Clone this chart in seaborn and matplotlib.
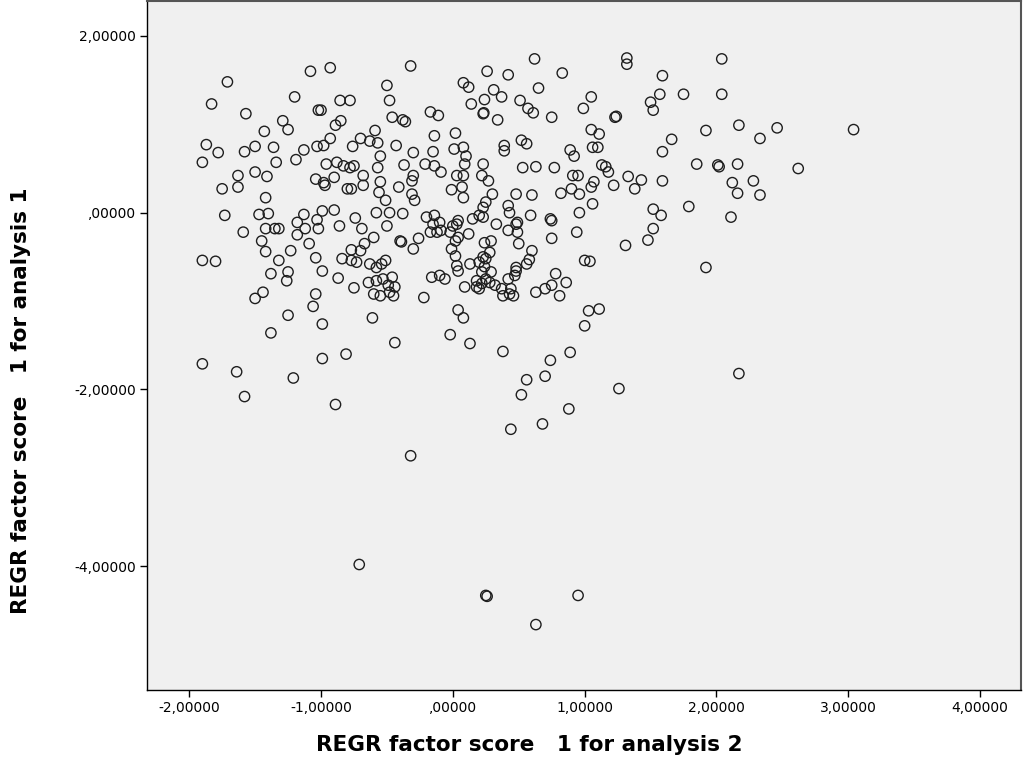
import matplotlib
matplotlib.use("Agg")
import matplotlib.pyplot as plt
import seaborn as sns
import pandas as pd

# ---- data ----
score2 = [
 -1.71,-1.83,-1.57,-1.08,-0.93,-1.20,-0.855,-0.78,-1.02,-1.00,-1.29,-1.25,-1.43,-0.89,-0.85,-0.93,-0.70,-0.76,-1.87,-1.78,
 -1.58,-1.50,-1.36,-1.13,-1.03,-0.98,-1.19,-1.90,-1.34,
 -0.32,-0.50,-0.48,-0.46,-0.38,-0.36,-0.59,-0.63,-0.57,-0.43,-0.55,-0.30,-0.15,-0.17,-0.11,-0.14,0.02,0.01,0.08,0.10,
 0.08,0.12,0.26,0.14,0.24,0.31,0.37,0.23,0.235,0.34,0.42,0.51,0.57,0.61,0.62,0.65,0.75,0.83,0.99,0.52,0.56,0.39,0.39,0.89,0.92,
 1.05,1.32,1.32,1.59,2.04,1.05,1.57,1.50,1.52,1.75,2.04,1.23,1.24,1.11,1.92,2.17,2.46,2.33,1.66,1.59,1.06,1.10,
 3.04,
 1.85,2.01,2.02,2.16,2.62,1.13,1.16,1.18,1.07,1.05,1.22,1.33,1.43,1.38,1.59,2.12,2.16,2.28,2.33,1.06,1.52,1.58,1.79,2.11,
 1.52,1.48,1.31,1.04,1.92,
 1.11,1.03,1.00,1.26,2.17,
 -0.61,-0.44,0.04,0.08,-0.02,0.13,0.38,0.89,0.74,0.70,0.56,0.52,0.88,0.68,0.44,-0.32,
 -1.50,-1.25,-1.06,-0.99,-1.38,-0.81,-0.99,-1.90,-1.64,-1.21,-1.58,-0.89,
 -0.71,0.25,0.26,0.95,0.63,
 -1.63,-1.63,-1.75,-1.50,-1.41,-1.42,-1.73,-1.47,-1.40,-1.59,-1.42,-1.35,-1.32,-1.45,-1.42,-1.90,-1.80,-1.32,-1.23,-1.38,
 -1.25,-1.26,-1.44,-1.18,-1.13,-1.12,-1.18,-1.09,-1.04,-0.99,-1.03,-1.02,-0.99,-0.90,-0.86,-0.74,-0.69,-0.84,-0.77,-0.77,
 -0.73,-0.70,-0.67,-0.87,-0.75,-0.64,-1.04,-1.04,-0.98,-0.97,-0.90,-0.96,-0.88,-0.83,-0.78,-0.75,-0.68,-0.80,-0.77,-0.68,
 -0.57,-0.55,-0.56,-0.51,-0.58,-0.48,-0.50,-0.38,-0.41,-0.37,-0.30,-0.31,-0.31,-0.29,-0.21,-0.14,-0.09,-0.20,-0.14,-0.15,
 -0.17,-0.12,-0.09,-0.10,0.03,0.08,-0.01,0.07,0.08,0.09,0.23,0.22,0.27,0.30,0.25,0.23,0.20,0.04,0.03,0.00,
 -0.02,0.02,0.04,-0.01,0.02,0.03,0.04,0.12,0.15,0.23,0.24,0.29,0.28,0.23,0.20,0.22,0.13,0.33,0.42,0.48,
 0.49,0.43,0.49,0.48,0.60,0.53,0.63,0.77,0.59,0.74,0.75,0.75,0.50,0.60,0.58,0.42,0.82,0.90,0.95,0.91,
 0.96,0.96,0.94,1.00,0.48,0.48,0.56,0.42,0.47,0.78,0.86,0.75,0.70,0.63,0.44,0.43,0.46,0.81,0.25,0.24,
 0.29,0.25,0.22,0.28,0.09,0.18,0.18,0.20,0.37,0.32,0.38,-0.22,-0.16,-0.10,-0.06,-0.40,-0.39,-0.30,-0.26,-0.60,
 -0.63,-0.58,-0.54,-0.51,-0.58,-0.53,-0.49,-0.46,-0.44,-0.60,-0.55,-0.48,-0.45,
]
score1 = [
 1.48,1.23,1.12,1.60,1.64,1.31,1.27,1.27,1.16,1.16,1.04,0.94,0.92,0.99,1.04,0.84,0.84,0.75,0.77,0.68,
 0.69,0.75,0.74,0.71,0.75,0.76,0.60,0.57,0.57,
 1.66,1.44,1.27,1.08,1.05,1.03,0.93,0.81,0.79,0.76,0.64,0.68,0.69,1.14,1.10,0.87,0.90,0.72,0.74,0.64,
 1.47,1.42,1.60,1.23,1.28,1.39,1.31,1.12,1.13,1.05,1.56,1.27,1.18,1.13,1.74,1.41,1.08,1.58,1.18,0.82,0.78,0.76,0.70,0.71,0.64,
 1.31,1.75,1.68,1.55,1.74,0.94,1.34,1.25,1.16,1.34,1.34,1.08,1.09,0.89,0.93,0.99,0.96,0.84,0.83,0.69,0.74,0.74,
 0.94,
 0.55,0.54,0.52,0.55,0.50,0.54,0.52,0.46,0.35,0.29,0.31,0.41,0.37,0.27,0.36,0.34,0.22,0.36,0.20,0.10,0.04,-0.03,0.07,-0.05,
 -0.18,-0.31,-0.37,-0.55,-0.62,
 -1.09,-1.11,-1.28,-1.99,-1.82,
 -1.19,-1.47,-1.10,-1.19,-1.38,-1.48,-1.57,-1.58,-1.67,-1.85,-1.89,-2.06,-2.22,-2.39,-2.45,-2.75,
 -0.97,-1.16,-1.06,-1.26,-1.36,-1.60,-1.65,-1.71,-1.80,-1.87,-2.08,-2.17,
 -3.98,-4.33,-4.34,-4.33,-4.66,
 0.42,0.29,0.27,0.46,0.41,0.17,-0.03,-0.02,-0.01,-0.22,-0.18,-0.18,-0.18,-0.32,-0.44,-0.54,-0.55,-0.54,-0.43,-0.69,
 -0.67,-0.77,-0.90,-0.11,-0.02,-0.18,-0.25,-0.35,-0.51,-0.66,-0.08,-0.18,0.02,0.03,-0.15,-0.06,-0.18,-0.52,-0.42,-0.54,
 -0.56,-0.43,-0.35,-0.74,-0.85,-0.79,-0.92,0.38,0.34,0.31,0.40,0.55,0.57,0.53,0.51,0.53,0.42,0.27,0.27,0.31,
 0.51,0.35,0.23,0.14,0.00,0.00,-0.15,-0.01,0.29,0.54,0.42,0.36,0.21,0.14,0.55,0.53,0.46,-0.05,-0.03,-0.13,
 -0.22,-0.22,-0.20,-0.11,0.42,0.42,0.26,0.29,0.17,0.55,0.55,0.42,0.36,0.21,0.12,0.06,-0.03,-0.09,-0.13,-0.15,
 -0.22,-0.32,-0.28,-0.41,-0.49,-0.60,-0.66,-0.24,-0.07,-0.05,-0.34,-0.32,-0.45,-0.50,-0.56,-0.67,-0.58,-0.13,-0.20,-0.13,
 -0.22,0.00,-0.11,0.21,0.20,0.51,0.52,0.51,-0.03,-0.07,-0.09,-0.29,-0.35,-0.43,-0.53,0.08,0.22,0.27,0.42,0.42,
 0.21,0.00,-0.22,-0.54,-0.66,-0.62,-0.58,-0.75,-0.71,-0.69,-0.79,-0.82,-0.86,-0.90,-0.86,-0.92,-0.94,-0.94,-0.52,-0.61,
 -0.67,-0.75,-0.80,-0.79,-0.84,-0.77,-0.84,-0.86,-0.86,-0.82,-0.94,-0.96,-0.73,-0.71,-0.75,-0.32,-0.33,-0.41,-0.29,-0.28,
 -0.58,-0.62,-0.58,-0.54,-0.77,-0.75,-0.82,-0.73,-0.84,-0.92,-0.94,-0.90,-0.94,
]

x_ticks = [-2, -1, 0, 1, 2, 3, 4]
x_tick_labels = ["-2,00000", "-1,00000", ",00000", "1,00000", "2,00000", "3,00000", "4,00000"]
y_ticks = [-4, -2, 0, 2]
y_tick_labels = ["-4,00000", "-2,00000", ",00000", "2,00000"]
x_label = "REGR factor score   1 for analysis 2"
y_label = "REGR factor score   1 for analysis 1"

n = min(len(score2), len(score1))
df = pd.DataFrame({"x": score2[:n], "y": score1[:n]})

sns.set_theme(style="white")
plt.rcParams["font.family"] = ["DejaVu Sans"]

fig = plt.figure(figsize=(10.27, 7.67), dpi=100)
ax = fig.add_axes([147/1027, 1 - 690/767, (1021-147)/1027, 689/767])
ax.set_facecolor("#f0f0f0")

sns.scatterplot(data=df, x="x", y="y", ax=ax, s=55, marker="o",
                facecolors="none", edgecolor="#1e1e1e", linewidth=1.0, legend=False)

ax.set_xlim(-2.32, 4.31)
ax.set_ylim(-5.40, 2.395)
ax.set_xticks(x_ticks)
ax.set_xticklabels(x_tick_labels)
ax.set_yticks(y_ticks)
ax.set_yticklabels(y_tick_labels)
ax.tick_params(axis="both", which="major", direction="out", length=5, width=1,
               color="#000000", labelsize=10, labelcolor="#000000", pad=3,
               bottom=True, left=True)
for side in ["left", "bottom"]:
    ax.spines[side].set_color("#000000")
    ax.spines[side].set_linewidth(1.0)
for side in ["right", "top"]:
    ax.spines[side].set_color("#555555")
    ax.spines[side].set_linewidth(1.5)

ax.set_xlabel(x_label, fontsize=15.5, fontweight="bold", color="#000000",
              va="center", ha="center")
ax.set_ylabel(y_label, fontsize=15.5, fontweight="bold", color="#000000",
              va="center", ha="center")
ax.xaxis.set_label_coords((529 - 147) / 874, -(745 - 690) / 690)
ax.yaxis.set_label_coords(-(147 - 21) / 874, (690 - 400) / 690)

fig.savefig("out.png", dpi=100, facecolor="white")
